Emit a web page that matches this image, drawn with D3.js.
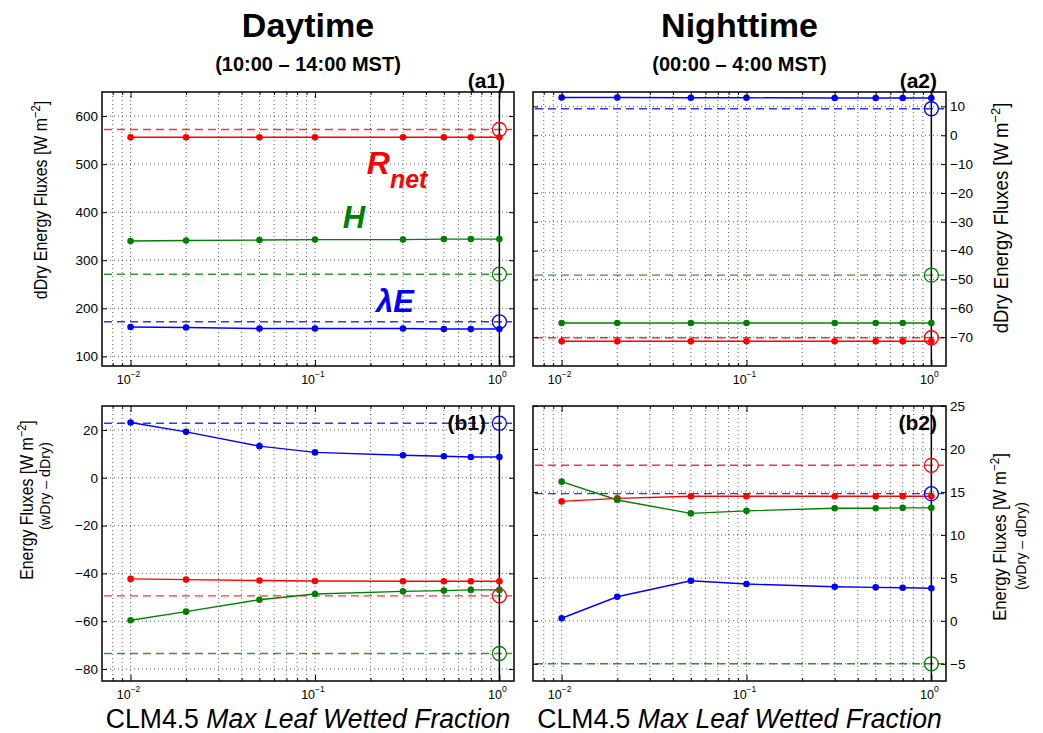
<!DOCTYPE html>
<html>
<head>
<meta charset="utf-8">
<script src="https://cdn.jsdelivr.net/npm/d3@7"></script>
<style>
  body { margin: 0; background: #fff; }
  svg { font-family: "Liberation Sans", Arial, Helvetica, sans-serif; }
</style>
</head>
<body>
<div id="chart"></div>
<script>
// leaf wetted fraction used in the runs
const wetFrac = [0.01, 0.02, 0.05, 0.1, 0.3, 0.5, 0.7, 1.0];
const xTicks = [0.01, 0.1, 1];

// (a1) daytime dDry fluxes
const dayRnet = [556, 556, 556, 556, 556, 556, 556, 556];
const dayH = [340, 341, 342, 343, 343, 344, 344, 344];
const dayLE = [161, 160, 158, 158, 158, 157, 157, 157];
const dayRef = [572, 271, 172]; // Rnet, H, LE (dashed + open circle)
const dayTicks = [100, 200, 300, 400, 500, 600];

// (a2) nighttime dDry fluxes
const nightRnet = [-71.4, -71.4, -71.4, -71.4, -71.4, -71.4, -71.4, -71.4];
const nightH = [-65.1, -65.1, -65.1, -65.1, -65.1, -65.1, -65.1, -65.1];
const nightLE = [13.1, 13.1, 13.0, 13.0, 12.9, 12.9, 12.9, 12.9];
const nightRef = [-70.2, -48.5, 9.2];
const nightTicks = [-70, -60, -50, -40, -30, -20, -10, 0, 10];

// (b1) daytime wDry - dDry
const dayDiffRnet = [-42.3, -42.6, -43.0, -43.2, -43.3, -43.3, -43.3, -43.3];
const dayDiffH = [-59.6, -56.0, -51.0, -48.6, -47.5, -47.2, -46.9, -46.9];
const dayDiffLE = [23.1, 19.2, 13.2, 10.6, 9.4, 9.0, 8.7, 8.7];
const dayDiffRef = [-49.4, -73.5, 22.8];
const dayDiffTicks = [-80, -60, -40, -20, 0, 20];

// (b2) nighttime wDry - dDry
const nightDiffRnet = [13.9, 14.25, 14.5, 14.5, 14.5, 14.5, 14.5, 14.5];
const nightDiffH = [16.2, 14.06, 12.5, 12.8, 13.1, 13.1, 13.15, 13.15];
const nightDiffLE = [0.3, 2.8, 4.66, 4.28, 3.97, 3.9, 3.85, 3.8];
const nightDiffRef = [18.1, -5.0, 14.8];
const nightDiffTicks = [-5, 0, 5, 10, 15, 20, 25];

const colors = ["#ff0000", "#008000", "#0000ff"]; // Rnet, H, LE

const width = 1043, height = 733;
const cols = [[102, 514], [533, 946]];
const rows = [[92, 366], [406, 681]];

const panels = [
  { tag: "(a1)", col: 0, row: 0, yDomain: [80, 650], ticks: dayTicks,
    series: [dayRnet, dayH, dayLE], refs: dayRef, tagX: 505, tagY: 88 },
  { tag: "(a2)", col: 1, row: 0, yDomain: [-80, 15], ticks: nightTicks,
    series: [nightRnet, nightH, nightLE], refs: nightRef, tagX: 937, tagY: 88 },
  { tag: "(b1)", col: 0, row: 1, yDomain: [-85, 30], ticks: dayDiffTicks,
    series: [dayDiffRnet, dayDiffH, dayDiffLE], refs: dayDiffRef, tagX: 486, tagY: 430 },
  { tag: "(b2)", col: 1, row: 1, yDomain: [-7, 25], ticks: nightDiffTicks,
    series: [nightDiffRnet, nightDiffH, nightDiffLE], refs: nightDiffRef, tagX: 937, tagY: 430 }
];

const svg = d3.select("#chart").append("svg")
  .attr("width", width)
  .attr("height", height);

svg.append("rect").attr("width", width).attr("height", height).attr("fill", "#fff");

const superFmt = d => {
  return ["10", String(Math.round(Math.log10(d))).replace("-", "\u2212")];
};

panels.forEach(p => {
  const [x0, x1] = cols[p.col];
  const [y0, y1] = rows[p.row];
  const x = d3.scaleLog().domain([0.007, 1.2]).range([x0, x1]);
  const y = d3.scaleLinear().domain(p.yDomain).range([y1, y0]);
  const g = svg.append("g");

  const minor = x.ticks().filter(t => t > 0.0071 && t < 1.19);

  // dotted grid
  g.append("g")
    .selectAll("line")
    .data(minor)
    .join("line")
    .attr("x1", d => x(d)).attr("x2", d => x(d))
    .attr("y1", y0).attr("y2", y1)
    .attr("stroke", "#333").attr("stroke-width", 0.8)
    .attr("stroke-dasharray", "1,3");
  g.append("g")
    .selectAll("line")
    .data(p.ticks)
    .join("line")
    .attr("x1", x0).attr("x2", x1)
    .attr("y1", d => y(d)).attr("y2", d => y(d))
    .attr("stroke", "#333").attr("stroke-width", 0.8)
    .attr("stroke-dasharray", "1,3");

  // dashed reference lines (dDry / wDry at full wetting)
  p.refs.forEach((v, i) => {
    g.append("line")
      .attr("x1", x0 + 2).attr("x2", x1 - 2)
      .attr("y1", y(v)).attr("y2", y(v))
      .attr("stroke", colors[i]).attr("stroke-width", 1.4)
      .attr("stroke-opacity", 0.8)
      .attr("stroke-dasharray", "8,5");
  });

  // vertical line at x = 1
  g.append("line")
    .attr("x1", x(1)).attr("x2", x(1))
    .attr("y1", y0).attr("y2", y1)
    .attr("stroke", "#000").attr("stroke-width", 1.5);

  const line = d3.line().x((d, i) => x(wetFrac[i])).y(d => y(d));
  p.series.forEach((s, i) => {
    g.append("path")
      .datum(s)
      .attr("fill", "none")
      .attr("stroke", colors[i])
      .attr("stroke-width", 1.4)
      .attr("d", line);
    g.append("g")
      .selectAll("circle")
      .data(s)
      .join("circle")
      .attr("cx", (d, j) => x(wetFrac[j]))
      .attr("cy", d => y(d))
      .attr("r", 3.3)
      .attr("fill", colors[i]);
  });

  p.refs.forEach((v, i) => {
    g.append("circle")
      .attr("cx", x(1)).attr("cy", y(v)).attr("r", 7)
      .attr("fill", "none")
      .attr("stroke", colors[i]).attr("stroke-width", 1.3);
  });

  // frame
  g.append("rect")
    .attr("x", x0).attr("y", y0)
    .attr("width", x1 - x0).attr("height", y1 - y0)
    .attr("fill", "none").attr("stroke", "#000").attr("stroke-width", 1.5);

  // x ticks (inside, top and bottom)
  const xAxB = d3.axisBottom(x).tickValues(minor).tickSize(-3).tickFormat("");
  const xAxT = d3.axisTop(x).tickValues(minor).tickSize(-3).tickFormat("");
  [[xAxB, y1], [xAxT, y0]].forEach(([ax, yy]) => {
    const a = g.append("g").attr("transform", `translate(0,${yy})`).call(ax);
    a.select(".domain").remove();
    a.selectAll(".tick line")
      .attr("stroke-width", 1)
      .attr("y2", d => (xTicks.includes(d) ? 6 : 3) * (yy === y1 ? -1 : 1));
  });

  // x tick labels
  const xl = g.append("g").attr("font-size", 12.5).attr("text-anchor", "middle");
  xTicks.forEach(t => {
    const [base, exp] = superFmt(t);
    const tx = xl.append("text")
      .attr("x", x(t) - 2).attr("y", y1 + 18);
    tx.append("tspan").text(base);
    tx.append("tspan").attr("dy", -7).attr("font-size", 8.5).text(exp);
  });

  // y ticks on both sides
  const yL = d3.axisLeft(y).tickValues(p.ticks).tickSize(-5).tickPadding(4);
  const yR = d3.axisRight(y).tickValues(p.ticks).tickSize(-5).tickPadding(4);
  const left = g.append("g").attr("transform", `translate(${x0},0)`).call(yL);
  const right = g.append("g").attr("transform", `translate(${x1},0)`).call(yR);
  [left, right].forEach(a => {
    a.select(".domain").remove();
    a.selectAll(".tick line").attr("stroke-width", 1);
    a.selectAll(".tick text").attr("font-size", 13.5).attr("fill", "#000")
      .attr("font-family", "Liberation Sans, Arial, sans-serif");
  });
  if (p.col === 0) right.selectAll(".tick text").remove();
  else left.selectAll(".tick text").remove();

  // panel tag
  g.append("text")
    .attr("x", p.tagX).attr("y", p.tagY)
    .attr("text-anchor", "end")
    .attr("font-size", 21).attr("font-weight", "bold")
    .text(p.tag);

  // x axis title
  if (p.row === 1) {
    const t = g.append("text")
      .attr("transform", `translate(${(x0 + x1) / 2},728) scale(0.95,1)`)
      .attr("text-anchor", "middle").attr("font-size", 28);
    t.append("tspan").text("CLM4.5 ");
    t.append("tspan").attr("font-style", "italic").text("Max Leaf Wetted Fraction");
  }

  // flux names in (a1)
  if (p.tag === "(a1)") {
    const lab = g.append("g").attr("font-weight", "bold").attr("font-style", "italic");
    const r = lab.append("text").attr("x", x(0.191)).attr("y", y(479))
      .attr("fill", colors[0]).attr("font-size", 32);
    r.append("tspan").text("R");
    r.append("tspan").attr("dy", 14).attr("font-size", 25).text("net");
    lab.append("text").attr("x", x(0.1416)).attr("y", y(367))
      .attr("fill", colors[1]).attr("font-size", 31).text("H");
    const le = lab.append("text").attr("x", x(0.214)).attr("y", y(193))
      .attr("fill", colors[2]).attr("font-size", 31);
    le.append("tspan").text("\u03bb");
    le.append("tspan").text("E");
  }
});

// column titles
const titles = [["Daytime", "(10:00 \u2013 14:00 MST)"], ["Nighttime", "(00:00 \u2013 4:00 MST)"]];
titles.forEach((t, i) => {
  const cx = (cols[i][0] + cols[i][1]) / 2;
  svg.append("text").attr("x", cx).attr("y", 37).attr("text-anchor", "middle")
    .attr("font-size", 34).attr("font-weight", "bold").text(t[0]);
  svg.append("text").attr("x", cx).attr("y", 71).attr("text-anchor", "middle")
    .attr("font-size", 20).attr("font-weight", "bold").text(t[1]);
});

// y axis labels (narrow, tall lettering like the original)
function fluxLabel(xPos, yPos, size, squeeze, prefix) {
  const t = svg.append("text")
    .attr("transform", `translate(${xPos},${yPos}) rotate(-90) scale(${squeeze},1)`)
    .attr("text-anchor", "middle").attr("font-size", size);
  t.append("tspan").text(prefix + "Fluxes [W m");
  t.append("tspan").attr("dy", -size * 0.4).attr("font-size", size * 0.7).text("\u22122");
  t.append("tspan").attr("dy", size * 0.4).text("]");
  return t;
}
function subLabel(xPos, yPos, size, squeeze) {
  svg.append("text")
    .attr("transform", `translate(${xPos},${yPos}) rotate(-90) scale(${squeeze},1)`)
    .attr("text-anchor", "middle").attr("font-size", size).text("(wDry \u2013 dDry)");
}
fluxLabel(47, 200, 18.5, 0.86, "dDry Energy ");
fluxLabel(1008, 218, 19.5, 0.95, "dDry Energy ");
fluxLabel(33, 500, 18, 0.88, "Energy ");
fluxLabel(1006, 537, 18.5, 0.9, "Energy ");
subLabel(50, 486, 15, 0.95);
subLabel(1026, 546, 15, 0.95);
</script>
</body>
</html>
